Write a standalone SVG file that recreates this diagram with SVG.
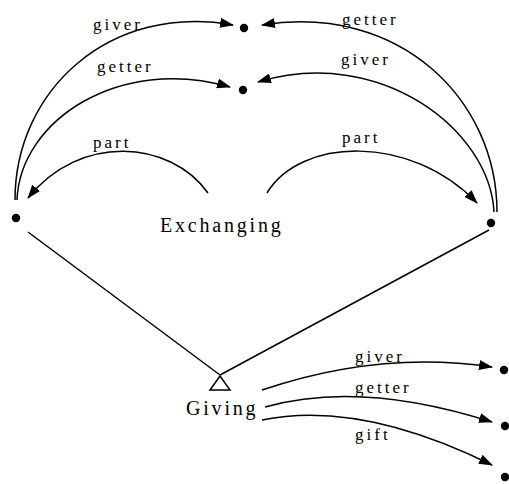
<svg xmlns="http://www.w3.org/2000/svg" width="509" height="484" viewBox="0 0 509 484">
<style>
.lbl{font-family:"Liberation Serif",serif;font-size:17px;letter-spacing:3px;fill:#000}
.big{font-family:"Liberation Serif",serif;font-size:20px;letter-spacing:2.8px;fill:#000}
.c{fill:none;stroke:#000;stroke-width:1.5}
.dot{fill:#000}
</style>
<defs>
<marker id="ah" markerWidth="14" markerHeight="10" refX="13" refY="5" orient="auto" markerUnits="userSpaceOnUse">
<path d="M0,0 L14,5 L0,10 Z" fill="#000"/>
</marker>
</defs>
<g id="connectors">
<path class="c" marker-end="url(#ah)" d="M15,200 C15,90 110,3 233,25"/>
<path class="c" marker-end="url(#ah)" d="M17,200 C20,120 120,55 230,87"/>
<path class="c" marker-end="url(#ah)" d="M497,212 C497,100 400,3 262,25"/>
<path class="c" marker-end="url(#ah)" d="M494,212 C490,130 380,45 258,82"/>
<path class="c" marker-end="url(#ah)" d="M208,193 C170,140 80,133 28,198"/>
<path class="c" marker-end="url(#ah)" d="M267,193 C300,138 410,133 477,203"/>
<path class="c" d="M28,232 L220,375"/>
<path class="c" d="M489,230 L220,375"/>
<path class="c" marker-end="url(#ah)" d="M262,390 Q380,350 492,367"/>
<path class="c" marker-end="url(#ah)" d="M265,407 Q360,380 492,422"/>
<path class="c" marker-end="url(#ah)" d="M262,420 Q360,400 492,465"/>
</g>
<g id="labels">
<text class="lbl" x="93" y="30">giver</text>
<text class="lbl" x="97" y="72">getter</text>
<text class="lbl" x="93" y="148">part</text>
<text class="lbl" x="342" y="25">getter</text>
<text class="lbl" x="341" y="65">giver</text>
<text class="lbl" x="342" y="143">part</text>
<text class="lbl" x="355" y="362">giver</text>
<text class="lbl" x="355" y="393">getter</text>
<text class="lbl" x="355" y="440">gift</text>
</g>
<g id="exchanging"><text class="big" x="160" y="232">Exchanging</text></g>
<g id="giving">
<path d="M220,376 L210,390 L230,390 Z" fill="#fff" stroke="#000" stroke-width="1.5"/>
<text class="big" x="186" y="415">Giving</text>
</g>
<g id="dot-top1"><circle class="dot" cx="244" cy="28" r="4.2"/></g>
<g id="dot-top2"><circle class="dot" cx="243" cy="90" r="4.2"/></g>
<g id="dot-left"><circle class="dot" cx="16" cy="218" r="4.2"/></g>
<g id="dot-right"><circle class="dot" cx="491" cy="223" r="4.2"/></g>
<g id="dot-b1"><circle class="dot" cx="504" cy="370" r="4.2"/></g>
<g id="dot-b2"><circle class="dot" cx="505" cy="426" r="4.2"/></g>
<g id="dot-b3"><circle class="dot" cx="505" cy="477" r="4.2"/></g>
</svg>
